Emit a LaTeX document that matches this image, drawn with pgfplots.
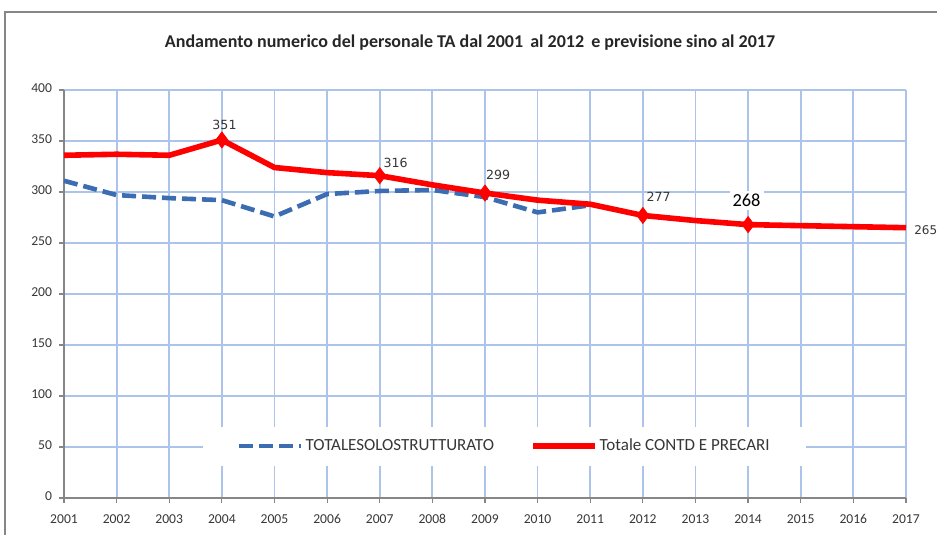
\documentclass[border=0pt]{standalone}
\usepackage{pgfplots}
\pgfplotsset{compat=1.18}
\usepackage{fontspec}
\setmainfont{Carlito}
\newfontfamily\dvs{DejaVu Sans}
\definecolor{gridblue}{RGB}{172,196,234}
\definecolor{serblue}{RGB}{60,108,178}
\definecolor{axgray}{RGB}{134,134,134}
\definecolor{txtgray}{RGB}{55,55,55}
\begin{document}
\begin{tikzpicture}
\useasboundingbox (-32pt,-18.5pt) rectangle (436.5pt,249pt);
\draw[axgray, line width=0.6pt] (-29.5pt,-40pt) -- (-29.5pt,243pt) -- (480pt,243pt);
\node[font=\fontsize{9}{10}\selectfont\bfseries, text=black!85] at (203pt,227.5pt) {Andamento numerico del personale TA dal 2001\, al 2012\, e previsione sino al 2017};
\begin{axis}[
  scale only axis, width=421pt, height=204pt,
  xmin=2001, xmax=2017, ymin=0, ymax=400,
  xtick={2001,...,2017}, ytick={0,50,...,400},
  xticklabel style={/pgf/number format/1000 sep={}, yshift=-1.5pt},
  /pgf/number format/assume math mode=true,
  typeset ticklabels with strut,
  tick label style={font=\fontsize{6.8}{7.5}\selectfont, text=txtgray},
  grid=major, major grid style={gridblue, line width=0.9pt},
  axis x line*=bottom, axis y line*=left,
  axis line style={-, axgray, line width=0.8pt},
  tick style={axgray, line width=0.6pt}, tick align=outside, major tick length=2.5pt,
  legend style={at={(rel axis cs:0.523,0.127)}, anchor=center, fill=white, draw=none,
    font=\fontsize{8.5}{9}\selectfont, text=txtgray, inner xsep=17pt, inner ysep=4pt,
    nodes={inner xsep=1pt},
    /tikz/every even column/.append style={column sep=17pt}},
  legend columns=2,
  legend image code/.code={\draw[#1] (0pt,0pt) -- (31pt,0pt);},
  clip=false,
]
\addplot[serblue, line width=2.3pt, dash pattern=on 7pt off 3pt] coordinates {
(2001,311) (2002,297) (2003,294) (2004,292) (2005,276) (2006,298) (2007,301) (2008,302) (2009,295) (2010,280) (2011,287)};
\addlegendentry{TOTALESOLOSTRUTTURATO}
\addplot[red, line width=2.8pt] coordinates {
(2001,336) (2002,337) (2003,336) (2004,351) (2005,324) (2006,319) (2007,316) (2008,307) (2009,299) (2010,292) (2011,288) (2012,277) (2013,272) (2014,268) (2015,267) (2016,266) (2017,265)};
\addlegendentry{Totale CONTD E PRECARI}
\addplot[red, only marks, mark=diamond*, mark size=4pt, forget plot] coordinates {
(2004,351) (2007,316) (2009,299) (2012,277) (2014,268)};
\node[font=\dvs\fontsize{6.3}{7}\selectfont, text=txtgray] at (axis cs:2004.05,366) {351};
\node[font=\dvs\fontsize{6.3}{7}\selectfont, text=txtgray] at (axis cs:2007.3,329) {316};
\node[font=\dvs\fontsize{6.3}{7}\selectfont, text=txtgray] at (axis cs:2009.25,317) {299};
\node[font=\dvs\fontsize{6.3}{7}\selectfont, text=txtgray] at (axis cs:2012.3,295) {277};
\node[font=\fontsize{9.2}{10}\selectfont, text=black, fill=white, inner sep=1.5pt] at (axis cs:2013.97,292) {268};
\node[font=\dvs\fontsize{6}{7}\selectfont, text=txtgray, anchor=west, inner sep=0pt] at (axis cs:2017.15,263) {265};
\end{axis}
\end{tikzpicture}
\end{document}
